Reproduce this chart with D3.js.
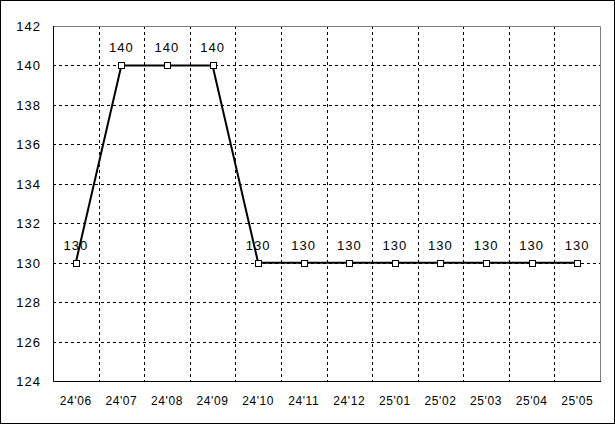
<!DOCTYPE html>
<html><head><meta charset="utf-8">
<script src="https://cdn.jsdelivr.net/npm/d3@7"></script>
<style>body{margin:0;background:#fff}svg{display:block}</style>
</head><body>
<script>
const categories = ["24'06","24'07","24'08","24'09","24'10","24'11","24'12","25'01","25'02","25'03","25'04","25'05"];
const values = [130,140,140,140,130,130,130,130,130,130,130,130];
const yTicks = [124,126,128,130,132,134,136,138,140,142];

const W = 615, H = 424;
const m = {l:53, r:600, t:26, b:381};
const svg = d3.select("body").append("svg").attr("width",W).attr("height",H);
svg.append("rect").attr("x",0.5).attr("y",0.5).attr("width",W-1).attr("height",H-1).attr("fill","#fff").attr("stroke","#000");

const x = d3.scaleBand().domain(categories).range([m.l,m.r]);
const y = d3.scaleLinear().domain([124,142]).range([m.b,m.t]);
const font = "'Liberation Sans', Arial, sans-serif";

svg.append("g").selectAll("line").data(yTicks.filter(t=>t>124 && t<142)).join("line")
  .attr("x1",m.l).attr("x2",m.r).attr("y1",d=>Math.round(y(d))+0.5).attr("y2",d=>Math.round(y(d))+0.5)
  .attr("stroke","#000").attr("stroke-dasharray","3,3");
svg.append("g").selectAll("line").data(categories.slice(1)).join("line")
  .attr("x1",d=>Math.round(x(d))+0.5).attr("x2",d=>Math.round(x(d))+0.5).attr("y1",m.t).attr("y2",m.b)
  .attr("stroke","#000").attr("stroke-dasharray","3,3");
svg.append("path").attr("d",`M${m.l},${m.t+0.5}H${m.r+0.5}V${m.b}`).attr("fill","none").attr("stroke","#808080");
svg.append("path").attr("d",`M${m.l+0.5},${m.t}V${m.b+0.5}H${m.r+1}`).attr("fill","none").attr("stroke","#000");

svg.append("g").selectAll("text").data(yTicks).join("text")
  .attr("x",41).attr("y",d=>y(d)+5).attr("text-anchor","end").attr("letter-spacing","1")
  .attr("font-family",font).attr("font-size",13).text(d=>d);
svg.append("g").selectAll("text").data(categories).join("text")
  .attr("x",d=>x(d)+x.bandwidth()/2).attr("y",405).attr("text-anchor","middle").attr("letter-spacing","0.6")
  .attr("font-family",font).attr("font-size",12).text(d=>d);

const cx = (d,i)=>x(categories[i])+x.bandwidth()/2;
const line = d3.line().x((d,i)=>cx(d,i)).y(d=>y(d));
svg.append("path").datum(values).attr("d",line).attr("fill","none").attr("stroke","#000").attr("stroke-width",2);
svg.append("g").selectAll("rect").data(values).join("rect")
  .attr("x",(d,i)=>Math.round(cx(d,i))-3+0.5).attr("y",d=>Math.round(y(d))-3+0.5).attr("width",6).attr("height",6)
  .attr("fill","#fff").attr("stroke","#000");
svg.append("g").selectAll("text").data(values).join("text")
  .attr("x",(d,i)=>cx(d,i)).attr("y",d=>y(d)-13).attr("text-anchor","middle").attr("letter-spacing","1")
  .attr("font-family",font).attr("font-size",13).text(d=>d);
</script>
</body></html>
